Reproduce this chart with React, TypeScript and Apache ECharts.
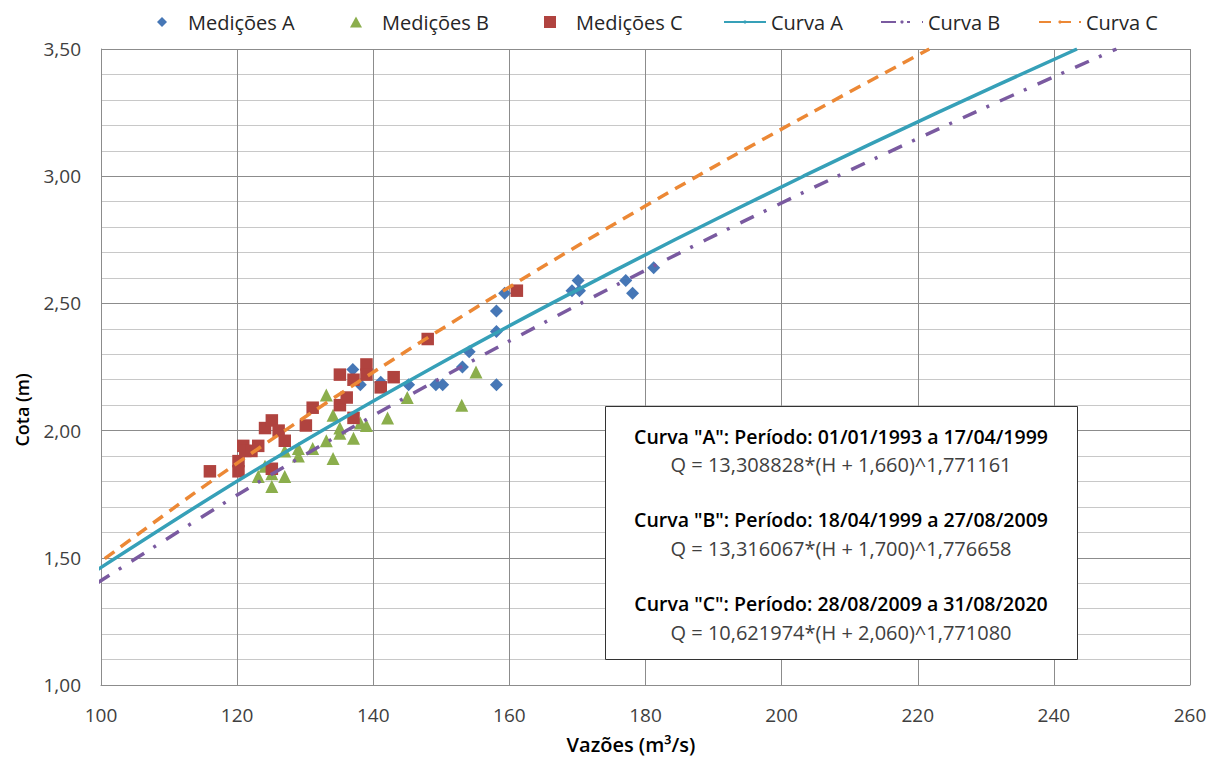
import React, { useEffect, useRef } from "react";
import * as echarts from "echarts";

// Medições A (vazão m³/s, cota m)
const qA = [137.0, 138.1, 141.1, 145.2, 149.2, 150.2, 153.1, 154.1, 158.1, 158.1, 158.1, 159.3, 169.2, 170.3, 170.1, 177.1, 178.1, 181.2];
const hA = [2.24, 2.18, 2.19, 2.18, 2.18, 2.18, 2.25, 2.31, 2.18, 2.39, 2.47, 2.54, 2.55, 2.55, 2.59, 2.59, 2.54, 2.64];

// Medições B
const qB = [123.1, 124.1, 125.1, 125.1, 127.0, 127.0, 129.0, 129.0, 131.1, 133.1, 133.1, 134.1, 134.1, 135.1, 135.1, 137.1, 138.1, 139.0, 142.1, 145.0, 153.0, 155.1];
const hB = [1.82, 1.86, 1.78, 1.83, 1.82, 1.92, 1.90, 1.93, 1.93, 1.96, 2.14, 1.89, 2.06, 2.01, 1.99, 1.97, 2.03, 2.02, 2.05, 2.13, 2.10, 2.23];

// Medições C
const qC = [116.0, 120.2, 120.2, 120.9, 121.2, 122.1, 123.1, 124.1, 125.1, 125.1, 126.1, 127.0, 130.1, 131.1, 135.1, 135.1, 136.1, 137.1, 137.1, 139.0, 139.0, 141.1, 143.0, 148.0, 161.1];
const hC = [1.84, 1.88, 1.84, 1.94, 1.92, 1.92, 1.94, 2.01, 2.04, 1.85, 2.00, 1.96, 2.02, 2.09, 2.22, 2.10, 2.13, 2.20, 2.05, 2.26, 2.22, 2.17, 2.21, 2.36, 2.55];

// Curvas-chave (pontos lidos ao longo das curvas)
const curveAQ = [99.3, 116.9, 132.5, 148.9, 166.2, 184.3, 203.2, 222.9, 243.4];
const curveAH = [1.45, 1.75, 2.0, 2.25, 2.5, 2.75, 3.0, 3.25, 3.5];
const curveBQ = [99.4, 120.2, 136.1, 152.9, 170.5, 188.9, 208.2, 228.3, 249.2];
const curveBH = [1.40, 1.75, 2.0, 2.25, 2.5, 2.75, 3.0, 3.25, 3.5];
const curveCQ = [98.2, 113.5, 127.0, 141.2, 156.1, 171.5, 187.6, 204.4, 221.7];
const curveCH = [1.45, 1.75, 2.0, 2.25, 2.5, 2.75, 3.0, 3.25, 3.5];

const seriesNames = ["Medições A", "Medições B", "Medições C", "Curva A", "Curva B", "Curva C"];

const boxTitles = [
  'Curva "A": Período: 01/01/1993 a 17/04/1999',
  'Curva "B": Período: 18/04/1999 a 27/08/2009',
  'Curva "C": Período: 28/08/2009 a 31/08/2020',
];
const boxFormulas = [
  "Q = 13,308828*(H + 1,660)^1,771161",
  "Q = 13,316067*(H + 1,700)^1,776658",
  "Q = 10,621974*(H + 2,060)^1,771080",
];

const zip = (xs: number[], ys: number[]) => xs.map((x, i) => [x, ys[i]]);

const FONT = "'Open Sans', 'Noto Sans', sans-serif";

export default function App() {
  const ref = useRef<HTMLDivElement>(null);
  useEffect(() => {
    if (!ref.current) return;
    const chart = echarts.init(ref.current, undefined, { renderer: "svg" });
    const legendText = { fontFamily: FONT, fontSize: 20, color: "#262626" };
    const legendLefts = [157, 350, 544, 723, 880, 1038];
    const legendIcons: (string | undefined)[] = [
      "path://M0,5L5,0L10,5L5,10Z",
      "path://M6,0L12,11L0,11Z",
      "path://M0,0L12,0L12,12L0,12Z",
      undefined,
      undefined,
      undefined,
    ];
    const legendHeights = [10, 11, 12, 4, 4, 4];
    const boxChildren: any[] = [
      {
        type: "rect",
        z: 100,
        shape: { x: 605.5, y: 406.5, width: 472, height: 253 },
        style: { fill: "#ffffff", stroke: "#333333", lineWidth: 1 },
      },
    ];
    const titleY = [436, 519, 603];
    const formulaY = [464, 548, 632];
    boxTitles.forEach((t, i) => {
      boxChildren.push({
        type: "text",
        z: 101,
        x: 841,
        y: titleY[i],
        style: {
          text: t,
          fontFamily: FONT,
          fontSize: 19.5,
          fontWeight: 600,
          fill: "#000000",
          textAlign: "center",
          textVerticalAlign: "middle",
        },
      });
      boxChildren.push({
        type: "text",
        z: 101,
        x: 841,
        y: formulaY[i],
        style: {
          text: boxFormulas[i],
          fontFamily: FONT,
          fontSize: 20,
          fill: "#404040",
          textAlign: "center",
          textVerticalAlign: "middle",
        },
      });
    });

    chart.setOption({
      animation: false,
      backgroundColor: "#ffffff",
      textStyle: { fontFamily: FONT },
      grid: { left: 101, right: 27, top: 49, bottom: 73 },
      legend: seriesNames.map((n, i) => {
        const lg: any = {
          data: [n],
          left: legendLefts[i],
          top: 12,
          padding: 0,
          itemWidth: 42,
          itemHeight: legendHeights[i],
          itemGap: 0,
          symbolKeepAspect: true,
          textStyle: legendText,
          selectedMode: false,
        };
        if (legendIcons[i]) lg.icon = legendIcons[i];
        return lg;
      }),
      xAxis: {
        type: "value",
        min: 100,
        max: 260,
        interval: 20,
        axisLine: { show: true, lineStyle: { color: "#8c8c8c", width: 1 } },
        axisTick: { show: false },
        axisLabel: { fontFamily: FONT, fontSize: 19, color: "#404040", margin: 20 },
        splitLine: { show: true, lineStyle: { color: "#8c8c8c", width: 1 } },
      },
      yAxis: {
        type: "value",
        min: 1,
        max: 3.5,
        interval: 0.5,
        axisLine: { show: true, lineStyle: { color: "#8c8c8c", width: 1 } },
        axisTick: { show: false },
        axisLabel: {
          fontFamily: FONT,
          fontSize: 19,
          color: "#404040",
          margin: 20,
          formatter: (v: number) => v.toFixed(2).replace(".", ","),
        },
        splitLine: { show: true, lineStyle: { color: "#8c8c8c", width: 1 } },
        minorTick: { show: false, splitNumber: 5 },
        minorSplitLine: { show: true, lineStyle: { color: "#c8c8c8", width: 1 } },
      },
      graphic: [
        {
          type: "text",
          x: 631,
          y: 744,
          style: {
            text: "Vazões (m³/s)",
            fontFamily: FONT,
            fontSize: 20,
            fontWeight: 600,
            fill: "#000000",
            textAlign: "center",
            textVerticalAlign: "middle",
          },
        },
        {
          type: "text",
          x: 22,
          y: 410,
          rotation: Math.PI / 2,
          style: {
            text: "Cota (m)",
            fontFamily: FONT,
            fontSize: 18,
            fontWeight: 600,
            fill: "#000000",
            textAlign: "center",
            textVerticalAlign: "middle",
          },
        },
        ...boxChildren,
      ],
      series: [
        {
          name: "Medições A",
          type: "scatter",
          symbol: "diamond",
          symbolSize: 13,
          itemStyle: { color: "#4677B6", opacity: 1 },
          data: zip(qA, hA),
        },
        {
          name: "Medições B",
          type: "scatter",
          symbol: "triangle",
          symbolSize: 13,
          itemStyle: { color: "#8BAE4C", opacity: 1 },
          data: zip(qB, hB),
        },
        {
          name: "Medições C",
          type: "scatter",
          symbol: "rect",
          symbolSize: 12.5,
          itemStyle: { color: "#B0433F", opacity: 1 },
          data: zip(qC, hC),
        },
        {
          name: "Curva A",
          type: "line",
          smooth: 0.3,
          showSymbol: false,
          symbol: "none",
          clip: true,
          lineStyle: { color: "#36A0B8", width: 3.5 },
          itemStyle: { color: "#36A0B8" },
          data: zip(curveAQ, curveAH),
          z: 5,
        },
        {
          name: "Curva B",
          type: "line",
          smooth: 0.3,
          showSymbol: false,
          symbol: "none",
          clip: true,
          lineStyle: { color: "#7A5AA0", width: 3.5, type: [15, 11, 3, 12], cap: "butt" },
          itemStyle: { color: "#7A5AA0" },
          data: zip(curveBQ, curveBH),
          z: 5,
        },
        {
          name: "Curva C",
          type: "line",
          smooth: 0.3,
          showSymbol: false,
          symbol: "none",
          clip: true,
          lineStyle: { color: "#EC8835", width: 3.5, type: [12, 8], cap: "butt" },
          itemStyle: { color: "#EC8835" },
          data: zip(curveCQ, curveCH),
          z: 5,
        },
      ],
    });
    return () => chart.dispose();
  }, []);
  return (
    <div
      ref={ref}
      style={{ position: "absolute", left: 0, top: 0, width: 1217, height: 758 }}
    />
  );
}
